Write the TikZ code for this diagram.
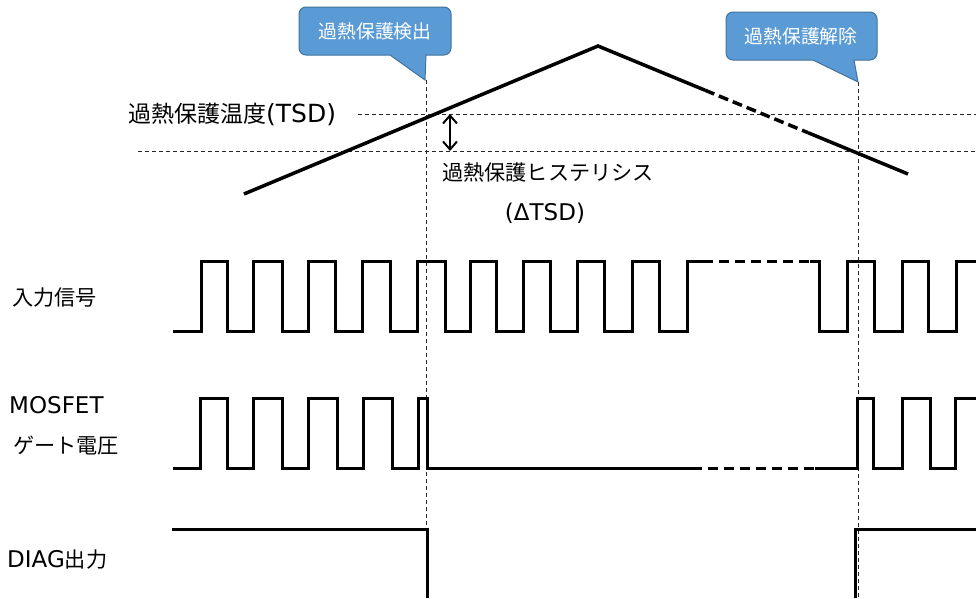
\documentclass[tikz,border=0pt]{standalone}
\usepackage{fontspec}
\setmainfont{DejaVu Sans}
\newfontfamily\jp[Scale=0.92]{Noto Sans CJK JP}
\usetikzlibrary{arrows.meta}
\definecolor{callfill}{HTML}{5B9BD5}
\definecolor{calledge}{HTML}{41719C}
\begin{document}
\begin{tikzpicture}[x=1pt,y=-1pt,
  wave/.style={line width=3pt,line join=miter},
  temp/.style={line width=3.5pt},
  guide/.style={line width=1pt,dash pattern=on 4pt off 3pt,black!85},
  callout/.style={fill=callfill,draw=calledge,line width=1pt},
  calltext/.style={text=white,font=\fontsize{20.5}{22}\selectfont\jp,inner sep=0pt},
  lbl/.style={font=\fontsize{23}{26}\selectfont,inner sep=0pt},
  biglbl/.style={font=\fontsize{25}{28}\selectfont,inner sep=0pt}]
\useasboundingbox (0,0) rectangle (976,598);

% guide lines
\coordinate (v1t) at (426,80); \coordinate (v1b) at (426,598);
\coordinate (v2t) at (858,82); \coordinate (v2b) at (858,598);
\coordinate (h1l) at (358,114); \coordinate (h1r) at (976,114);
\coordinate (h2l) at (138,151); \coordinate (h2r) at (976,151);
\draw[guide] (v1t) -- (v1b);
\draw[guide] (v2t) -- (v2b);
\draw[guide] (h1l) -- (h1r);
\draw[guide] (h2l) -- (h2r);

% callouts
\path[callout] (390,55) -- (425,80) -- (426,55) {[rounded corners=7pt] -- (451,55) -- (451,7) -- (299,7) -- (299,55)} -- cycle;
\node[calltext] (c1) at (375,31) {過熱保護検出};
\path[callout] (813,60) -- (858,82) -- (854,60) {[rounded corners=7pt] -- (877,60) -- (877,12) -- (726,12) -- (726,60)} -- cycle;
\node[calltext] (c2) at (801,36) {過熱保護解除};

% temperature curve
\coordinate (tL) at (244,194);
\coordinate (tA) at (598,46);
\coordinate (tD1) at (705,90.2);
\coordinate (tD2) at (808,132.7);
\coordinate (tR) at (908,174);
\draw[temp,line join=miter] (tL) -- (tA) -- (tD1);
\draw[temp,dash pattern=on 10pt off 5pt] (tD1) -- (tD2);
\draw[temp] (tD2) -- (tR);

% hysteresis arrow
\coordinate (a1) at (450,114); \coordinate (a2) at (450,151);
\draw[line width=2pt,{Straight Barb[length=8pt,width=14pt]}-{Straight Barb[length=8pt,width=14pt]}] (a1) -- (a2);

% labels
\node[biglbl,anchor=west] (tsd) at (128,114) {{\jp 過熱保護温度}(TSD)};
\node[lbl,anchor=west] (hys) at (442,172) {{\jp 過熱保護ヒステリシス}};
\node[lbl] (dtsd) at (545,213) {(ΔTSD)};
\node[lbl,anchor=west] (in) at (12,298) {{\jp 入力信号}};
\node[lbl,anchor=west] (mos) at (9,405) {MOSFET};
\node[lbl,anchor=west] (gate) at (13,446) {{\jp ゲート電圧}};
\node[lbl,anchor=west] (diag) at (7,560) {DIAG{\jp 出力}};

% input signal
\draw[wave] (173,331) -- (201,331) -- (201,261) -- (227,261) -- (227,331)
  -- (253,331) -- (253,261) -- (282,261) -- (282,331)
  -- (308,331) -- (308,261) -- (335,261) -- (335,331)
  -- (362,331) -- (362,261) -- (390,261) -- (390,331)
  -- (417,331) -- (417,261) -- (445,261) -- (445,331)
  -- (470,331) -- (470,261) -- (496,261) -- (496,331)
  -- (523,331) -- (523,261) -- (550,261) -- (550,331)
  -- (577,331) -- (577,261) -- (604,261) -- (604,331)
  -- (632,331) -- (632,261) -- (659,261) -- (659,331)
  -- (687,331) -- (687,261) -- (703,261);
\draw[wave,dash pattern=on 10pt off 6pt] (703,261) -- (810,261);
\draw[wave] (810,261) -- (819,261) -- (819,331) -- (847,331) -- (847,261)
  -- (874,261) -- (874,331) -- (902,331) -- (902,261)
  -- (928,261) -- (928,331) -- (956,331) -- (956,261) -- (976,261);

% MOSFET gate
\draw[wave] (173,468) -- (200,468) -- (200,398) -- (227,398) -- (227,468)
  -- (253,468) -- (253,398) -- (282,398) -- (282,468)
  -- (308,468) -- (308,398) -- (337,398) -- (337,468)
  -- (363,468) -- (363,398) -- (392,398) -- (392,468)
  -- (418,468) -- (418,398) -- (427,398) -- (427,468) -- (692,468);
\draw[wave,dash pattern=on 10pt off 6pt] (692,468) -- (815,468);
\draw[wave] (815,468) -- (857,468) -- (857,398) -- (873,398) -- (873,468)
  -- (902,468) -- (902,398) -- (930,398) -- (930,468)
  -- (955,468) -- (955,398) -- (976,398);

% DIAG
\draw[wave] (172,529) -- (427,529) -- (427,598);
\draw[wave] (855,598) -- (855,529) -- (976,529);
\end{tikzpicture}
\end{document}
